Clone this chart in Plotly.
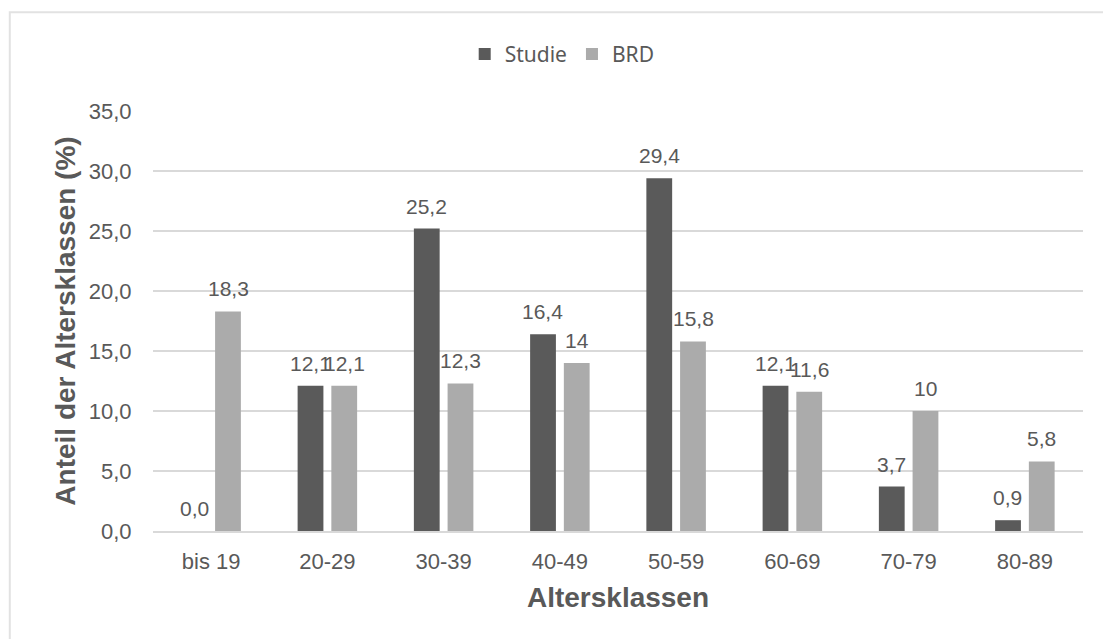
import plotly.graph_objects as go

# Altersklassen and shares (%) for the study group vs. the German population
categories = ["bis 19", "20-29", "30-39", "40-49", "50-59", "60-69", "70-79", "80-89"]
studie_values = [0.0, 12.1, 25.2, 16.4, 29.4, 12.1, 3.7, 0.9]
brd_values = [18.3, 12.1, 12.3, 14.0, 15.8, 11.6, 10.0, 5.8]
studie_labels = ["0,0", "12,1", "25,2", "16,4", "29,4", "12,1", "3,7", "0,9"]
brd_labels = ["18,3", "12,1", "12,3", "14", "15,8", "11,6", "10", "5,8"]
y_ticks = [0, 5, 10, 15, 20, 25, 30, 35]
y_tick_labels = ["0,0", "5,0", "10,0", "15,0", "20,0", "25,0", "30,0", "35,0"]

DARK = "#5a5a5a"
LIGHT = "#ababab"
TEXT = "#595959"
FONT = "Liberation Sans, Arial, sans-serif"

fig = go.Figure()
fig.add_trace(go.Bar(name="Studie", x=categories, y=studie_values,
                     marker=dict(color=DARK, line=dict(width=0))))
fig.add_trace(go.Bar(name="BRD", x=categories, y=brd_values,
                     marker=dict(color=LIGHT, line=dict(width=0))))

# value labels above each bar
bar_offset = 17
for i, cat in enumerate(categories):
    for val, lab, dx in ((studie_values[i], studie_labels[i], -bar_offset),
                         (brd_values[i], brd_labels[i], bar_offset)):
        fig.add_annotation(x=cat, y=val, text=lab, showarrow=False,
                           xshift=dx, yshift=9, yanchor="bottom",
                           font=dict(family=FONT, size=21, color=TEXT))

# light frame around the chart
fig.add_shape(type="rect", xref="paper", yref="paper",
              x0=-0.154, x1=1.05, y0=-0.3, y1=1.235,
              line=dict(color="#e2e2e2", width=2), fillcolor="rgba(0,0,0,0)",
              layer="below")

fig.update_layout(
    width=1103, height=639,
    margin=dict(l=153, r=20, t=111, b=108),
    paper_bgcolor="white", plot_bgcolor="white",
    barmode="group", bargap=0.42, bargroupgap=0.235,
    font=dict(family=FONT, color=TEXT),
    showlegend=True,
    legend=dict(orientation="h", x=0.44, xanchor="center", y=1.135, yanchor="middle",
                font=dict(family="Noto Sans, sans-serif", size=21, color=TEXT),
                itemwidth=30, traceorder="normal"),
    xaxis=dict(showgrid=False, showline=True, linecolor="#d9d9d9", linewidth=1.5,
               tickfont=dict(family=FONT, size=22, color=TEXT),
               ticks="outside", ticklen=10, tickcolor="rgba(0,0,0,0)",
               title=dict(text="<b>Altersklassen</b>", standoff=14,
                          font=dict(family=FONT, size=28, color=TEXT))),
    yaxis=dict(range=[0, 35], tickvals=y_ticks, ticktext=y_tick_labels,
               showgrid=True, gridcolor="#d9d9d9", gridwidth=1.5, zeroline=False,
               tickfont=dict(family=FONT, size=22, color=TEXT),
               ticks="outside", ticklen=16, tickcolor="rgba(0,0,0,0)",
               title=dict(text="<b>Anteil der Altersklassen (%)</b>", standoff=4,
                          font=dict(family=FONT, size=28, color=TEXT))),
)

fig.write_html("out.html")
